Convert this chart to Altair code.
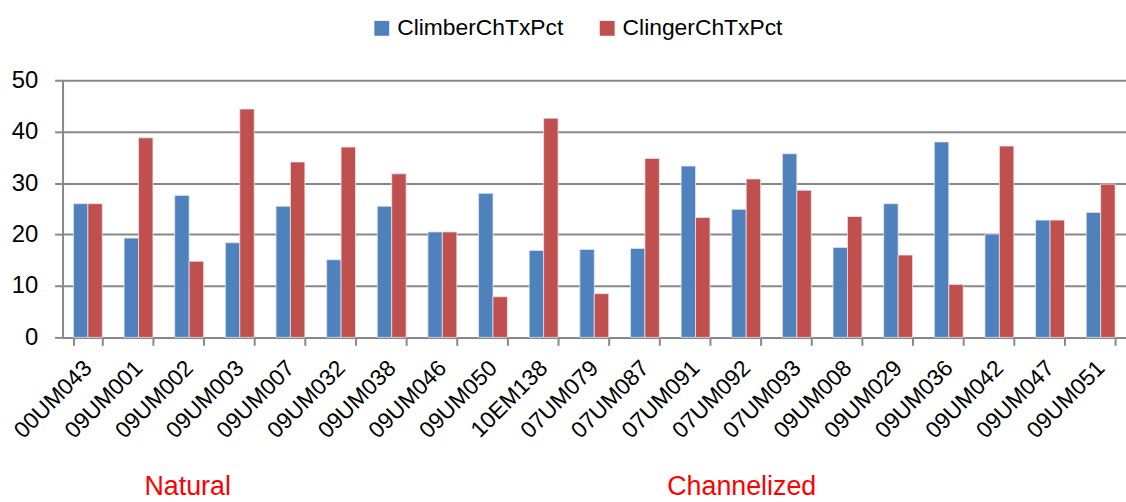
import altair as alt
import pandas as pd

sites = ["00UM043", "09UM001", "09UM002", "09UM003", "09UM007", "09UM032",
         "09UM038", "09UM046", "09UM050", "10EM138", "07UM079", "07UM087",
         "07UM091", "07UM092", "07UM093", "09UM008", "09UM029", "09UM036",
         "09UM042", "09UM047", "09UM051"]
climber = [26.0, 19.3, 27.6, 18.4, 25.5, 15.1, 25.5, 20.5, 28.0, 16.9, 17.1,
           17.3, 33.3, 24.9, 35.7, 17.5, 26.0, 38.0, 20.1, 22.8, 24.3]
clinger = [26.0, 38.8, 14.8, 44.4, 34.1, 37.0, 31.8, 20.5, 7.9, 42.6, 8.5,
           34.8, 23.3, 30.8, 28.6, 23.5, 16.0, 10.3, 37.2, 22.8, 29.8]
series = ["ClimberChTxPct", "ClingerChTxPct"]
colors = ["#4F81BD", "#C0504D"]

rows = []
for s, a, b in zip(sites, climber, clinger):
    rows.append({"site": s, "metric": series[0], "value": a})
    rows.append({"site": s, "metric": series[1], "value": b})
df = pd.DataFrame(rows)

FONT = "Liberation Sans"

bars = alt.Chart(df).mark_bar(stroke="#dfe6f0", strokeWidth=0.8).encode(
    x=alt.X("site:N", sort=sites, title=None,
            scale=alt.Scale(paddingInner=0.43, paddingOuter=0.215),
            axis=alt.Axis(labelAngle=-45, labelFontSize=23, labelFont=FONT,
                          labelColor="#000000", labelPadding=19,
                          tickBand="extent", tickSize=8, tickColor="#888888",
                          tickWidth=2, domainColor="#888888", domainWidth=2,
                          grid=False, labelAlign="right", labelBaseline="middle")),
    xOffset=alt.XOffset("metric:N", sort=series),
    y=alt.Y("value:Q", title=None,
            scale=alt.Scale(domain=[0, 50], nice=False),
            axis=alt.Axis(values=[0, 10, 20, 30, 40, 50], labelFontSize=24,
                          labelFont=FONT, labelColor="#000000", labelPadding=17,
                          tickSize=8, tickColor="#888888", tickWidth=2,
                          domainColor="#888888", domainWidth=2,
                          gridColor="#888888", gridWidth=2)),
    color=alt.Color("metric:N", sort=series,
                    scale=alt.Scale(domain=series, range=colors),
                    legend=alt.Legend(title=None, orient="none", direction="horizontal",
                                      legendX=310, legendY=-64, symbolType="square",
                                      symbolSize=225, symbolStrokeWidth=0,
                                      labelFontSize=23, labelFont=FONT, labelLimit=0,
                                      labelColor="#000000", columnPadding=32,
                                      labelOffset=4)),
)

groups = pd.DataFrame({"label": ["Natural", "Channelized"], "px": [126, 684]})
notes = alt.Chart(groups).mark_text(color="#FF0000", fontSize=27, font=FONT,
                                    align="center", baseline="middle").encode(
    x=alt.X("px:Q", scale=None),
    y=alt.value(410),
    text="label:N",
)

chart = alt.layer(bars, notes).properties(
    width=1071, height=259,
    padding={"left": 63, "top": 79, "right": 0, "bottom": 164},
    autosize=alt.AutoSizeParams(type="none"),
).configure_view(stroke=None).configure(background="#ffffff")

chart.save("out.html", embed_options={"renderer": "svg", "actions": False})
